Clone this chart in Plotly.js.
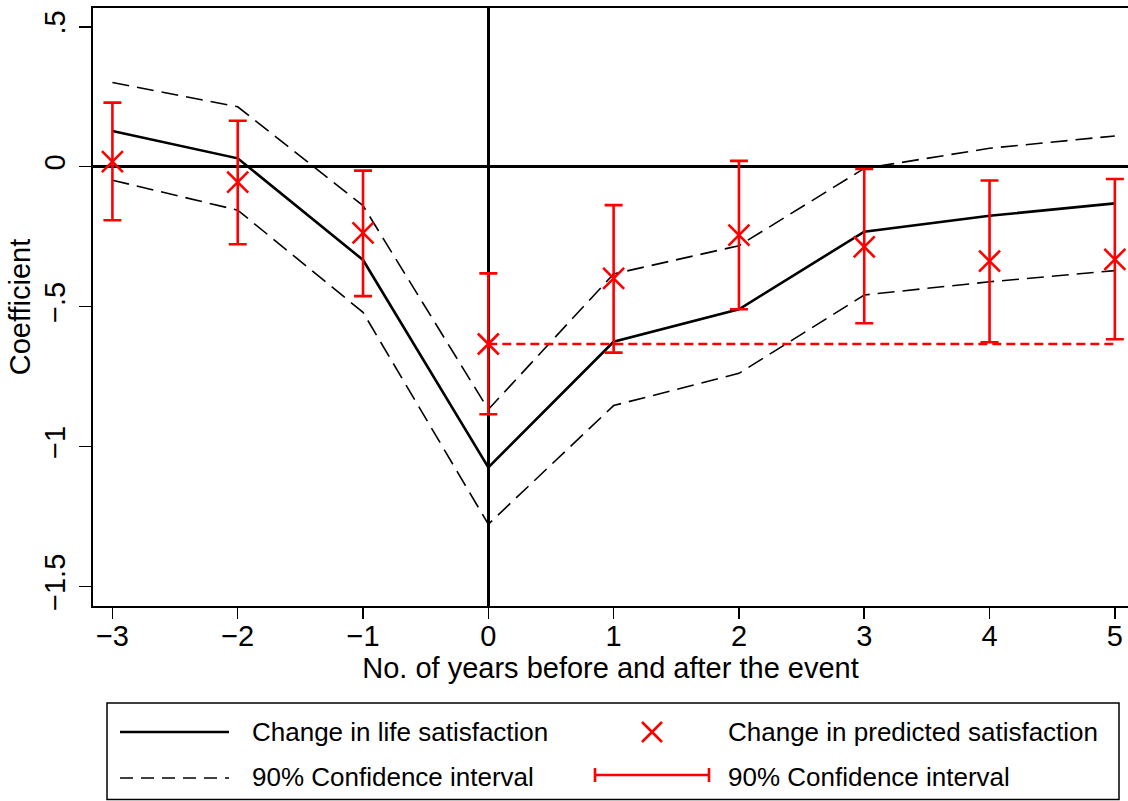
<!DOCTYPE html>
<html>
<head>
<meta charset="utf-8">
<script src="https://cdn.plot.ly/plotly-3.0.1.min.js"></script>
<style>html,body{margin:0;padding:0;background:#fff;}#chart{width:1128px;height:801px;}</style>
</head>
<body>
<div id="chart"></div>
<script>
// ---- data ----
var years = [-3, -2, -1, 0, 1, 2, 3, 4, 5];
var lifeSat      = [0.128, 0.030, -0.333, -1.074, -0.625, -0.509, -0.232, -0.175, -0.131];
var lifeSatUpper = [0.301, 0.214, -0.139, -0.867, -0.383, -0.282, -0.006, 0.066, 0.110];
var lifeSatLower = [-0.048, -0.155, -0.520, -1.277, -0.853, -0.738, -0.458, -0.411, -0.371];
var predicted    = [0.018, -0.055, -0.236, -0.633, -0.399, -0.244, -0.286, -0.337, -0.331];
var predUpper    = [0.229, 0.164, -0.014, -0.381, -0.137, 0.021, -0.008, -0.049, -0.044];
var predLower    = [-0.191, -0.277, -0.462, -0.884, -0.664, -0.509, -0.559, -0.627, -0.616];
var refYears = [0, 5];
var xTickVals = [-3, -2, -1, 0, 1, 2, 3, 4, 5];
var xTickText = ['\u22123', '\u22122', '\u22121', '0', '1', '2', '3', '4', '5'];
var yTickVals = [0.5, 0, -0.5, -1, -1.5];
var yTickText = ['.5', '0', '\u2212.5', '\u22121', '\u22121.5'];
var xTitle = 'No. of years before and after the event';
var yTitle = 'Coefficient';
var legendLabels = ['Change in life satisfaction', 'Change in predicted satisfaction',
                    '90% Confidence interval', '90% Confidence interval'];

// ---- styling ----
var FONT = 'Liberation Sans, Arial, Helvetica, sans-serif';
var RED = '#ff0000';
var W = 1128, H = 801, M = {l: 93, r: 0, t: 8, b: 195};
var PW = W - M.l - M.r, PH = H - M.t - M.b;
function PX(px) { return (px - M.l) / PW; }
function PY(py) { return (H - M.b - py) / PH; }

var refValue = predicted[years.indexOf(0)];
var errPlus = predUpper.map(function (v, i) { return v - predicted[i]; });
var errMinus = predLower.map(function (v, i) { return predicted[i] - v; });

var traces = [
  {x: years, y: lifeSatUpper, mode: 'lines', line: {color: '#000', width: 1.6, dash: '17px,8px'}, hoverinfo: 'skip'},
  {x: years, y: lifeSatLower, mode: 'lines', line: {color: '#000', width: 1.6, dash: '17px,8px'}, hoverinfo: 'skip'},
  {x: years, y: lifeSat, mode: 'lines', line: {color: '#000', width: 2.6}},
  {x: refYears, y: [refValue, refValue], mode: 'lines', line: {color: RED, width: 2.6, dash: '9px,5px'}},
  {x: years, y: predicted, mode: 'markers',
   marker: {symbol: 'x-thin', size: 21, color: RED, line: {color: RED, width: 2.6}},
   error_y: {type: 'data', symmetric: false, array: errPlus, arrayminus: errMinus,
             color: RED, thickness: 2.6, width: 9}}
];

// ---- hand-drawn legend (Stata style) ----
var LG = {x0: 107, x1: 1119, y0: 703, y1: 799.5, row1: 732, row2: 777,
          s1a: 120, s1b: 229, t1: 250, mark: 652, s2a: 595, s2b: 709, t2: 726};
var shapes = [
  {type: 'rect', xref: 'paper', yref: 'paper', x0: PX(LG.x0), x1: PX(LG.x1), y0: PY(LG.y1), y1: PY(LG.y0),
   line: {color: '#000', width: 1.5}, fillcolor: 'rgba(0,0,0,0)'},
  {type: 'line', xref: 'paper', yref: 'paper', x0: PX(LG.s1a), x1: PX(LG.s1b), y0: PY(LG.row1), y1: PY(LG.row1),
   line: {color: '#000', width: 2.6}},
  {type: 'line', xref: 'paper', yref: 'paper', x0: PX(LG.s1a), x1: PX(LG.s1b), y0: PY(LG.row2 + 1), y1: PY(LG.row2 + 1),
   line: {color: '#000', width: 1.6, dash: '13px,8px'}},
  {type: 'path', xref: 'paper', yref: 'paper',
   path: 'M' + PX(LG.mark - 10) + ',' + PY(LG.row1 - 10) + 'L' + PX(LG.mark + 10) + ',' + PY(LG.row1 + 10) +
         'M' + PX(LG.mark + 10) + ',' + PY(LG.row1 - 10) + 'L' + PX(LG.mark - 10) + ',' + PY(LG.row1 + 10),
   line: {color: RED, width: 2.6}},
  {type: 'line', xref: 'paper', yref: 'paper', x0: PX(LG.s2a), x1: PX(LG.s2b), y0: PY(LG.row2 - 2), y1: PY(LG.row2 - 2),
   line: {color: RED, width: 2.6}},
  {type: 'line', xref: 'paper', yref: 'paper', x0: PX(LG.s2a), x1: PX(LG.s2a), y0: PY(LG.row2 - 9), y1: PY(LG.row2 + 5),
   line: {color: RED, width: 2.6}},
  {type: 'line', xref: 'paper', yref: 'paper', x0: PX(LG.s2b), x1: PX(LG.s2b), y0: PY(LG.row2 - 9), y1: PY(LG.row2 + 5),
   line: {color: RED, width: 2.6}}
];
function legText(txt, px, py) {
  return {text: txt, xref: 'paper', yref: 'paper', x: PX(px), y: PY(py), xanchor: 'left', yanchor: 'middle',
          showarrow: false, font: {family: FONT, size: 26, color: '#000'}};
}
var annotations = [
  legText(legendLabels[0], LG.t1, LG.row1),
  legText(legendLabels[1], LG.t2, LG.row1),
  legText(legendLabels[2], LG.t1, LG.row2),
  legText(legendLabels[3], LG.t2, LG.row2)
];

var layout = {
  width: W, height: H, margin: M,
  paper_bgcolor: '#fff', plot_bgcolor: '#fff',
  showlegend: false,
  font: {family: FONT, color: '#000', size: 29},
  xaxis: {
    range: [-3.155, 5.105], tickvals: xTickVals, ticktext: xTickText,
    showgrid: false, zeroline: true, zerolinecolor: '#000', zerolinewidth: 2.5,
    showline: true, mirror: true, linecolor: '#000', linewidth: 2,
    ticks: 'outside', ticklen: 11, tickwidth: 1.5, tickcolor: '#000', ticklabelstandoff: -8,
    tickfont: {family: FONT, size: 29, color: '#000'},
    title: {text: xTitle, font: {family: FONT, size: 29, color: '#000'}, standoff: 4},
    automargin: false
  },
  yaxis: {
    range: [-1.569, 0.567], tickvals: yTickVals, ticktext: yTickText, tickangle: -90,
    showgrid: false, zeroline: true, zerolinecolor: '#000', zerolinewidth: 2.5,
    showline: true, mirror: false, linecolor: '#000', linewidth: 2,
    ticks: 'outside', ticklen: 12, tickwidth: 1.5, tickcolor: '#000', ticklabelstandoff: 2,
    tickfont: {family: FONT, size: 29, color: '#000'},
    title: {text: yTitle, font: {family: FONT, size: 29, color: '#000'}, standoff: 0},
    automargin: false
  },
  shapes: shapes,
  annotations: annotations
};

Plotly.newPlot('chart', traces, layout, {displayModeBar: false, staticPlot: true});
</script>
</body>
</html>
